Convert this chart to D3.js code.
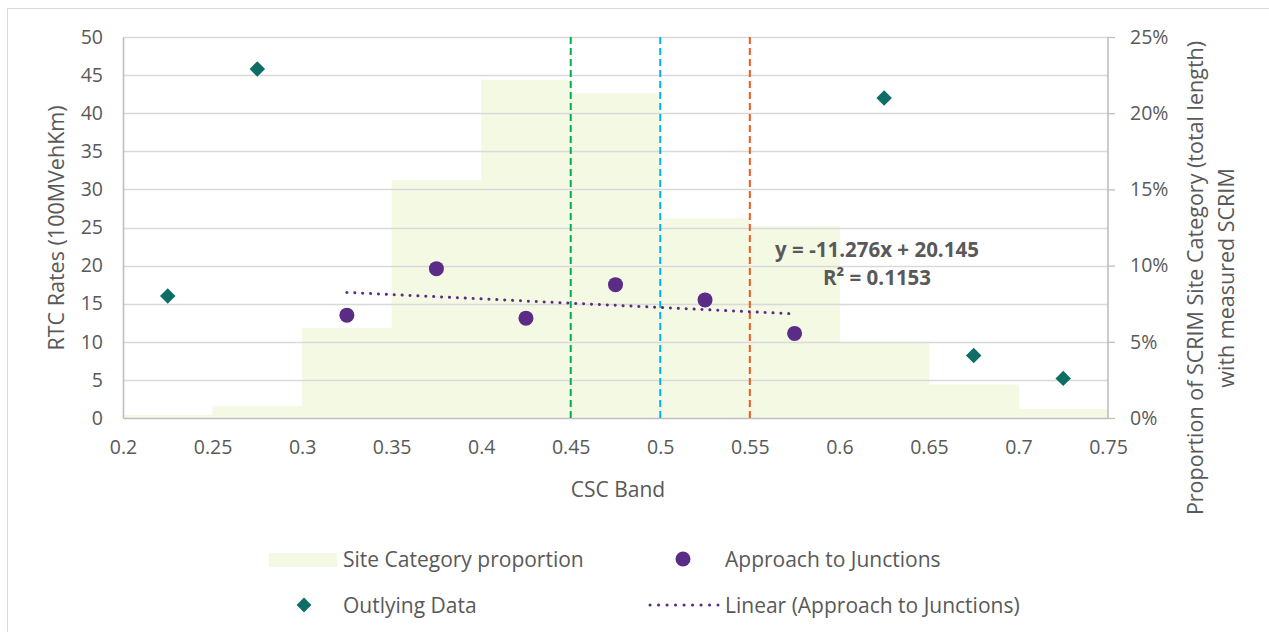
<!DOCTYPE html>
<html>
<head>
<meta charset="utf-8">
<script src="https://cdnjs.cloudflare.com/ajax/libs/d3/7.8.5/d3.min.js"></script>
<style>
  body { margin: 0; background: #fff; }
  text { font-family: "Open Sans", sans-serif; fill: #595959; }
</style>
</head>
<body>
<div id="chart"></div>
<script>
var svgWidth = 1269;
var svgHeight = 632;

// site category proportion per CSC band (bin start, fraction of length)
var binStarts = [0.2, 0.25, 0.3, 0.35, 0.4, 0.45, 0.5, 0.55, 0.6, 0.65, 0.7];
var binProportion = [0.002, 0.008, 0.059, 0.156, 0.222, 0.213, 0.131, 0.126, 0.05, 0.022, 0.006];

// approach to junctions
var junctionX = [0.325, 0.375, 0.425, 0.475, 0.525, 0.575];
var junctionY = [13.5, 19.6, 13.1, 17.5, 15.5, 11.1];

// outlying data
var outlierX = [0.225, 0.275, 0.625, 0.675, 0.725];
var outlierY = [16.0, 45.8, 42.0, 8.2, 5.2];

// trend line shown on chart
var trendSlope = -11.276;
var trendIntercept = 20.145;
var trendRange = [0.325, 0.575];

// threshold lines
var thresholds = [0.45, 0.5, 0.55];
var thresholdColors = ["#00b050", "#00b0f0", "#f05a1e"];

var xTicks = [0.2, 0.25, 0.3, 0.35, 0.4, 0.45, 0.5, 0.55, 0.6, 0.65, 0.7, 0.75];
var yTicks = [0, 5, 10, 15, 20, 25, 30, 35, 40, 45, 50];
var y2Ticks = [0, 0.05, 0.1, 0.15, 0.2, 0.25];

var margin = {top: 37, right: 161, bottom: 214, left: 123};
var width = svgWidth - margin.left - margin.right;
var height = svgHeight - margin.top - margin.bottom;

var svg = d3.select("#chart")
  .append("svg")
  .attr("width", svgWidth)
  .attr("height", svgHeight);

// outer border
svg.append("rect")
  .attr("x", 7.5).attr("y", 8.5)
  .attr("width", 1300).attr("height", 700)
  .attr("fill", "none")
  .attr("stroke", "#d9d9d9");

var chartGroup = svg.append("g")
  .attr("transform", `translate(${margin.left}, ${margin.top})`);

var xScale = d3.scaleLinear().domain([0.2, 0.75]).range([0, width]);
var yScale = d3.scaleLinear().domain([0, 50]).range([height, 0]);
var y2Scale = d3.scaleLinear().domain([0, 0.25]).range([height, 0]);

// bars
chartGroup.selectAll("rect.bar")
  .data(binStarts)
  .enter()
  .append("rect")
  .attr("class", "bar")
  .attr("x", d => xScale(d))
  .attr("width", (d, i) => xScale(d + 0.05) - xScale(d) + 0.5)
  .attr("y", (d, i) => y2Scale(binProportion[i]))
  .attr("height", (d, i) => height - y2Scale(binProportion[i]))
  .attr("fill", "#f4f9e3");

// gridlines
chartGroup.selectAll("line.grid")
  .data(yTicks.slice(1))
  .enter()
  .append("line")
  .attr("x1", 0).attr("x2", width)
  .attr("y1", d => Math.round(yScale(d)) + 0.5)
  .attr("y2", d => Math.round(yScale(d)) + 0.5)
  .attr("stroke", "#d9d9d9")
  .attr("stroke-width", 1.3);

// axes
var bottomAxis = d3.axisBottom(xScale).tickValues(xTicks).tickSize(0).tickPadding(22)
  .tickFormat(d => String(+d.toFixed(2)));
var leftAxis = d3.axisLeft(yScale).tickValues(yTicks).tickSize(0).tickPadding(20);
var rightAxis = d3.axisRight(y2Scale).tickValues(y2Ticks).tickSize(7).tickPadding(15)
  .tickFormat(d3.format(".0%"));

var xAxis = chartGroup.append("g")
  .attr("transform", `translate(0, ${height})`)
  .call(bottomAxis);
var yAxis = chartGroup.append("g").call(leftAxis);
var y2Axis = chartGroup.append("g")
  .attr("transform", `translate(${width}, 0)`)
  .call(rightAxis);

[xAxis, yAxis, y2Axis].forEach(function(g) {
  g.select(".domain").attr("stroke", "#bfbfbf").attr("stroke-width", 1.6);
  g.selectAll(".tick line").attr("stroke", "#bfbfbf").attr("stroke-width", 1.3);
  g.selectAll("text")
    .style("font-family", "'Open Sans', sans-serif")
    .style("font-size", "19.5px")
    .attr("fill", "#595959");
});
y2Axis.select(".domain").attr("d", `M0,0V${height}`);

// threshold lines
chartGroup.selectAll("line.threshold")
  .data(thresholds)
  .enter()
  .append("line")
  .attr("x1", d => xScale(d)).attr("x2", d => xScale(d))
  .attr("y1", 0).attr("y2", height)
  .attr("stroke", (d, i) => thresholdColors[i])
  .attr("stroke-width", 2)
  .attr("stroke-dasharray", "7,4");

// trend line
chartGroup.append("line")
  .attr("x1", xScale(trendRange[0]))
  .attr("x2", xScale(trendRange[1]))
  .attr("y1", yScale(trendSlope * trendRange[0] + trendIntercept))
  .attr("y2", yScale(trendSlope * trendRange[1] + trendIntercept))
  .attr("stroke", "#5b2c86")
  .attr("stroke-width", 3)
  .attr("stroke-linecap", "round")
  .attr("stroke-dasharray", "0.1,7.8");

// junction points
chartGroup.selectAll("circle.junction")
  .data(junctionX)
  .enter()
  .append("circle")
  .attr("cx", d => xScale(d))
  .attr("cy", (d, i) => yScale(junctionY[i]))
  .attr("r", 7.5)
  .attr("fill", "#5b2c86");

// outliers
var diamond = d3.symbol().type(d3.symbolSquare).size(120);
chartGroup.selectAll("path.outlier")
  .data(outlierX)
  .enter()
  .append("path")
  .attr("d", diamond)
  .attr("transform", (d, i) => `translate(${xScale(d)}, ${yScale(outlierY[i])}) rotate(45)`)
  .attr("fill", "#0e6e66");

// trend equation
var eq = chartGroup.append("text")
  .attr("y", 257 - margin.top)
  .style("font-size", "20.5px")
  .style("font-weight", "bold");
eq.append("tspan").attr("x", 877 - margin.left).attr("text-anchor", "middle")
  .text("y = -11.276x + 20.145");
eq.append("tspan").attr("x", 877 - margin.left).attr("dy", 28).attr("text-anchor", "middle")
  .text("R² = 0.1153");

// axis titles
svg.append("text")
  .attr("x", 618).attr("y", 497)
  .attr("text-anchor", "middle")
  .style("font-size", "21px")
  .text("CSC Band");

svg.append("text")
  .attr("transform", "translate(64, 228) rotate(-90)")
  .attr("text-anchor", "middle")
  .style("font-size", "21.5px")
  .text("RTC Rates (100MVehKm)");

var rTitle = svg.append("text")
  .attr("transform", "translate(1203, 278) rotate(-90)")
  .attr("text-anchor", "middle")
  .style("font-size", "21.5px");
rTitle.append("tspan").attr("x", 0).attr("y", 0)
  .text("Proportion of SCRIM Site Category (total length)");
rTitle.append("tspan").attr("x", 0).attr("y", 31)
  .text("with measured SCRIM");

// legend
var legend = svg.append("g").style("font-size", "21px");
legend.append("rect")
  .attr("x", 269).attr("y", 553).attr("width", 68).attr("height", 14)
  .attr("fill", "#f4f9e3");
legend.append("text").attr("x", 343).attr("y", 567).text("Site Category proportion");
legend.append("circle").attr("cx", 683).attr("cy", 559).attr("r", 7.5).attr("fill", "#5b2c86");
legend.append("text").attr("x", 725).attr("y", 567).text("Approach to Junctions");
legend.append("path")
  .attr("d", d3.symbol().type(d3.symbolSquare).size(110))
  .attr("transform", "translate(304, 605) rotate(45)")
  .attr("fill", "#0e6e66");
legend.append("text").attr("x", 343).attr("y", 613).text("Outlying Data");
legend.append("line")
  .attr("x1", 650).attr("x2", 718).attr("y1", 605).attr("y2", 605)
  .attr("stroke", "#5b2c86").attr("stroke-width", 3)
  .attr("stroke-linecap", "round").attr("stroke-dasharray", "0.1,8.4");
legend.append("text").attr("x", 725).attr("y", 613).text("Linear (Approach to Junctions)");
</script>
</body>
</html>
